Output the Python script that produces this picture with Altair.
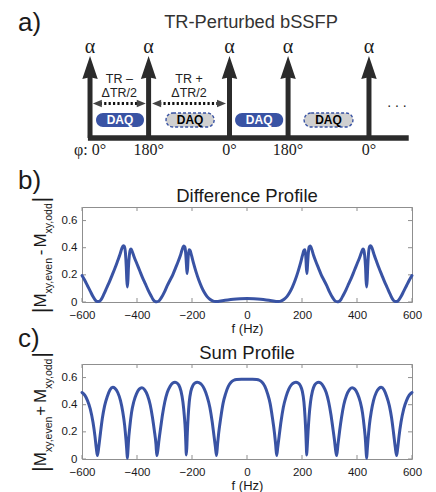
import altair as alt
import pandas as pd

# ---------------- data ----------------
pulse_t = [0.0, 0.84, 2.0, 2.84, 4.0]
pulse_phase = ["φ: 0°", "180°", "0°", "180°", "0°"]
daq_start = [0.086, 1.09, 2.08, 3.07]
daq_end = [0.774, 1.78, 2.77, 3.77]
daq_kind = ["even", "odd", "even", "odd"]
tr_start = [0.04, 0.89]
tr_end = [0.80, 1.95]
tr_line1 = ["TR –", "TR +"]
tr_line2 = ["ΔTR/2", "ΔTR/2"]
seq_extent = [-0.03, 4.57]

freq_ticks = [-600, -400, -200, 0, 200, 400, 600]
mag_ticks = [0, 0.2, 0.4, 0.6]

diff_f = [-600, -590, -580, -570, -560, -552, -545, -538, -530, -520, -510, -500, -490, -480,
          -470, -462, -455, -450, -446, -442, -439, -437, -435, -433, -431, -428, -425, -422,
          -418, -410, -400, -390, -380, -370, -360, -350, -342, -335, -328, -320, -312, -300,
          -290, -280, -270, -260, -250, -242, -236, -230, -226, -223, -220, -218, -216, -214,
          -211, -207, -202, -195, -185, -175, -165, -155, -145, -135, -125, -115, -105, -90,
          -70, -50, -25, 0,
          25, 50, 70, 90, 105, 115, 125, 135, 145, 155, 165, 175, 185, 195, 202, 207, 211,
          214, 216, 218, 220, 223, 226, 230, 236, 242, 250, 260, 270, 280, 290, 300, 312, 320,
          328, 335, 342, 350, 360, 370, 380, 390, 400, 410, 418, 422, 425, 428, 431, 433, 435,
          437, 439, 442, 446, 450, 455, 462, 470, 480, 490, 500, 510, 520, 530, 538, 545, 552,
          560, 570, 580, 590, 600]
diff_v = [0.195, 0.16, 0.12, 0.08, 0.04, 0.015, 0.003, 0.004, 0.02, 0.06, 0.105, 0.15, 0.2, 0.25,
          0.305, 0.35, 0.395, 0.415, 0.41, 0.36, 0.26, 0.16, 0.11, 0.16, 0.26, 0.34, 0.38, 0.39,
          0.375, 0.33, 0.28, 0.23, 0.18, 0.135, 0.09, 0.05, 0.02, 0.005, 0.002, 0.008, 0.03, 0.075,
          0.12, 0.16, 0.2, 0.25, 0.3, 0.345, 0.385, 0.412, 0.405, 0.36, 0.27, 0.21, 0.25, 0.33,
          0.385, 0.38, 0.345, 0.29, 0.22, 0.16, 0.11, 0.07, 0.04, 0.02, 0.008, 0.003, 0.004, 0.009,
          0.015, 0.02, 0.024, 0.026,
          0.024, 0.02, 0.015, 0.009, 0.004, 0.003, 0.008, 0.02, 0.04, 0.07, 0.11, 0.16, 0.22, 0.29,
          0.345, 0.38, 0.385,
          0.33, 0.25, 0.21, 0.27, 0.36, 0.405, 0.412, 0.385, 0.345, 0.3, 0.25, 0.2, 0.16, 0.12,
          0.075, 0.03, 0.008,
          0.002, 0.005, 0.02, 0.05, 0.09, 0.135, 0.18, 0.23, 0.28, 0.33, 0.375, 0.39, 0.38, 0.34,
          0.26, 0.16, 0.11,
          0.16, 0.26, 0.36, 0.41, 0.415, 0.395, 0.35, 0.305, 0.25, 0.2, 0.15, 0.105, 0.06, 0.02,
          0.004, 0.003, 0.015,
          0.04, 0.08, 0.12, 0.16, 0.195]

sum_f = [-600, -590, -580, -570, -560, -553, -548, -544, -539, -533, -526, -518, -508, -498,
         -488, -480, -470, -460, -452, -445, -440, -437, -435, -433, -431, -426, -420, -412,
         -402, -392, -382, -372, -362, -352, -344, -337, -331, -328, -324, -320, -314, -307,
         -299, -290, -280, -270, -262, -256, -248, -240, -233, -228, -224, -222, -221, -219,
         -217, -214, -210, -204, -197, -189, -181, -175, -165, -155, -145, -135, -127, -120,
         -115, -111, -107, -103, -95, -87, -78, -68, -58, -48, -38, -20, 0,
         20, 35, 45, 55, 65, 75, 84, 92, 100, 104, 108, 112, 117, 124, 132, 142, 152, 162, 172,
         178, 186, 194, 201, 207, 211, 214, 216, 217, 219, 222, 226, 231, 238, 246, 254, 260,
         268, 278, 288, 297, 305, 312, 318, 322, 326, 331, 337, 344, 352, 362, 372, 382, 392,
         402, 412, 420, 426, 431, 433, 435, 437, 440, 445, 452, 460, 470, 480, 488, 498, 508,
         518, 526, 533, 539, 544, 548, 553, 560, 570, 580, 590, 600]
sum_v = [0.49, 0.47, 0.43, 0.37, 0.27, 0.17, 0.08, 0.025, 0.09, 0.19, 0.3, 0.39, 0.46, 0.51,
         0.528, 0.52, 0.49, 0.43, 0.35, 0.25, 0.14, 0.06, 0.005, 0.06, 0.13, 0.24, 0.34, 0.42,
         0.48, 0.515, 0.525, 0.51, 0.47, 0.4, 0.31, 0.21, 0.11, 0.025, 0.07, 0.14, 0.23, 0.33,
         0.42, 0.49, 0.535, 0.56, 0.565, 0.562, 0.545, 0.5, 0.42, 0.32, 0.2, 0.09, 0.03, 0.08,
         0.19, 0.31, 0.42, 0.5, 0.54, 0.56, 0.565, 0.562, 0.548, 0.515, 0.46, 0.38, 0.28, 0.17,
         0.09, 0.025, 0.11, 0.19, 0.31, 0.41, 0.48, 0.535, 0.565, 0.58, 0.586, 0.588, 0.588,
         0.588, 0.586, 0.58, 0.565, 0.535, 0.48, 0.41, 0.31, 0.19, 0.11, 0.025, 0.09, 0.17, 0.28,
         0.38, 0.46, 0.515, 0.548, 0.562,
         0.565, 0.56, 0.54, 0.5, 0.42, 0.31, 0.19, 0.08, 0.03, 0.09, 0.2, 0.32, 0.42, 0.5, 0.545,
         0.562, 0.565,
         0.56, 0.535, 0.49, 0.42, 0.33, 0.23, 0.14, 0.07, 0.025, 0.11, 0.21, 0.31, 0.4, 0.47,
         0.51, 0.525, 0.515,
         0.48, 0.42, 0.34, 0.24, 0.13, 0.06, 0.005, 0.06, 0.14, 0.25, 0.35, 0.43, 0.49, 0.52,
         0.528, 0.51, 0.46,
         0.39, 0.3, 0.19, 0.09, 0.025, 0.08, 0.17, 0.27, 0.37, 0.43, 0.47, 0.49]

# ---------------- style ----------------
SANS = "Liberation Sans"
SERIF = "Liberation Serif"
BLUE = "#3953a4"
DARK = "#2b2b2b"
INK = "#1a1a1a"
FRAME = "#8f8f8f"
GREYF = "#d0d0d0"
W = 330
HA = 136
HP = 95


def label(text, x, y, size, align="left", baseline="alphabetic", font=SANS, color=INK,
          angle=0, weight="normal"):
    return alt.Chart(pd.DataFrame({"s": [text]})).mark_text(
        align=align, baseline=baseline, font=font, fontSize=size, color=color,
        angle=angle, fontWeight=weight
    ).encode(text="s:N", x=alt.value(x), y=alt.value(y))


# ---------------- panel a: sequence diagram ----------------
xsA = alt.Scale(domain=[-0.115, 4.617], nice=False, zero=False)
ysA = alt.Scale(domain=[-8.54, 157.32], nice=False, zero=False)

pulses = pd.DataFrame({"t": pulse_t, "phase": pulse_phase})
pulses["lv0"] = 0.0
pulses["lv1"] = 77.0
pulses["head"] = 84.8
pulses["alpha"] = 104.0
pulses["phi"] = -20.7

base_df = pd.DataFrame({"t0": [seq_extent[0]], "t1": [seq_extent[1]], "lv": [0.0]})

daq = pd.DataFrame({"s": daq_start, "e": daq_end, "kind": daq_kind})
daq["mid"] = (daq["s"] + daq["e"]) / 2
daq["lo"] = 13.4
daq["hi"] = 30.5
daq["lv"] = 22.0

tr = pd.DataFrame({"s": tr_start, "e": tr_end, "l1": tr_line1, "l2": tr_line2})
tr["mid"] = (tr["s"] + tr["e"]) / 2
tr["s2"] = tr["s"] + 0.1
tr["e2"] = tr["e"] - 0.1
tr["sh"] = tr["s"] + 0.065
tr["eh"] = tr["e"] - 0.065
tr["lv"] = 42.1
tr["lv1"] = 67.5
tr["lv2"] = 49.5

X = lambda f: alt.X(f, scale=xsA, axis=None)
Y = lambda f: alt.Y(f, scale=ysA, axis=None)

baseline = alt.Chart(base_df).mark_rule(strokeWidth=5.5, color=DARK).encode(
    x=X("t0:Q"), x2="t1:Q", y=Y("lv:Q"))
shafts = alt.Chart(pulses).mark_rule(strokeWidth=5, color=DARK).encode(
    x=X("t:Q"), y=Y("lv0:Q"), y2="lv1:Q")
heads = alt.Chart(pulses).mark_point(
    shape="M0,-1L0.62,0.85L0,0.7L-0.62,0.85Z", filled=True, size=620, color=DARK,
    opacity=1, strokeWidth=0).encode(x=X("t:Q"), y=Y("head:Q"))
alphas = alt.Chart(pulses).mark_text(text="α", font=SERIF, fontSize=20, color=INK,
                                     baseline="alphabetic").encode(x=X("t:Q"), y=Y("alpha:Q"))
phis = alt.Chart(pulses).mark_text(font=SERIF, fontSize=16, color=INK,
                                   baseline="alphabetic").encode(
    x=X("t:Q"), y=Y("phi:Q"), text="phase:N")
daq_blue = alt.Chart(daq).transform_filter("datum.kind == 'even'").mark_rect(
    cornerRadius=7, color=BLUE).encode(x=X("s:Q"), x2="e:Q", y=Y("lo:Q"), y2="hi:Q")
daq_grey = alt.Chart(daq).transform_filter("datum.kind == 'odd'").mark_rect(
    cornerRadius=7, fill=GREYF, stroke=BLUE, strokeWidth=1.4, strokeDash=[3, 2]).encode(
    x=X("s:Q"), x2="e:Q", y=Y("lo:Q"), y2="hi:Q")
daq_txt = alt.Chart(daq).mark_text(text="DAQ", font=SANS, fontSize=12, fontWeight="bold",
                                   baseline="middle").encode(
    x=X("mid:Q"), y=Y("lv:Q"),
    color=alt.Color("kind:N", scale=alt.Scale(domain=["even", "odd"], range=["white", "black"]),
                    legend=None))
tr_rule = alt.Chart(tr).mark_rule(strokeWidth=3, strokeDash=[2.2, 2.2], color="#111").encode(
    x=X("s2:Q"), x2="e2:Q", y=Y("lv:Q"))
tr_lh = alt.Chart(tr).mark_point(shape="M-1,0L1,-0.85L1,0.85Z", filled=True, size=81,
                                 color="#444", opacity=1, strokeWidth=0).encode(
    x=X("sh:Q"), y=Y("lv:Q"))
tr_rh = alt.Chart(tr).mark_point(shape="M1,0L-1,-0.85L-1,0.85Z", filled=True, size=81,
                                 color="#444", opacity=1, strokeWidth=0).encode(
    x=X("eh:Q"), y=Y("lv:Q"))
tr_t1 = alt.Chart(tr).mark_text(font=SANS, fontSize=12.5, color="#222",
                                baseline="alphabetic").encode(
    x=X("mid:Q"), y=Y("lv1:Q"), text="l1:N")
tr_t2 = alt.Chart(tr).mark_text(font=SANS, fontSize=12.5, color="#222",
                                baseline="alphabetic").encode(
    x=X("mid:Q"), y=Y("lv2:Q"), text="l2:N")
dots_df = pd.DataFrame({"t": [4.4], "lv": [37.8]})
dots = alt.Chart(dots_df).mark_text(text=". . .", font=SANS, fontSize=14, color=INK,
                                    baseline="alphabetic").encode(x=X("t:Q"), y=Y("lv:Q"))

panel_a = alt.layer(
    baseline, shafts, heads, alphas, phis, daq_blue, daq_grey, daq_txt,
    tr_rule, tr_lh, tr_rh, tr_t1, tr_t2, dots,
    label("TR-Perturbed bSSFP", 169, 19, 18.3, align="center", color="#333"),
    label("a)", -64, 21.5, 26),
).properties(width=W, height=HA, view=alt.ViewBackground(stroke="transparent"))

# ---------------- panels b & c: profiles ----------------
AW = {"|": 260, "M": 833, "x": 500, "y": 500, ",": 278, "e": 556, "v": 500, "n": 556,
      "o": 556, "d": 556, "-": 333, "+": 584, " ": 278}


def tw(s, size):
    return sum(AW[c] for c in s) * size / 1000.0


def ytitle(op):
    segs = [("|", 22, -33.6, 0, 0), ("M", 17, -36, 0, 0), ("xy,even", 10.5, -30.3, 0, 0)]
    if op == "-":
        segs.append(("-", 17, -36, 2, 2))
    else:
        segs.append(("+", 17, -36, 0, 3))
    segs += [("M", 17, -36, 0, 0), ("xy,odd", 10.5, -30.3, 0, 0), ("|", 22, -33.6, 0, 0)]
    total = sum(tw(s, z) + g0 + g1 for s, z, _, g0, g1 in segs)
    y = HP / 2 + 0.5 + total / 2
    layers = []
    for s, z, xb, g0, g1 in segs:
        y -= g0
        layers.append(label(s, xb, y, z, angle=270))
        y -= tw(s, z) + g1
    return layers


xsP = alt.Scale(domain=[-600, 600], nice=False, zero=False)
ysP = alt.Scale(domain=[0, 0.7], nice=False, zero=True)
x_axis = alt.Axis(values=freq_ticks, ticks=False, tickSize=0, domain=False, grid=False,
                  labelFont=SANS, labelFontSize=11.5, labelColor=INK, labelPadding=7,
                  labelFlush=False, title="f (Hz)", titleFont=SANS, titleFontSize=13,
                  titleFontWeight="normal", titleColor=INK, titlePadding=1.5)
y_axis = alt.Axis(values=mag_ticks, ticks=False, tickSize=0, domain=False, grid=False,
                  labelFont=SANS, labelFontSize=11.5, labelColor=INK, labelPadding=5,
                  labelFlush=False,
                  labelExpr="datum.value == 0 ? '0' : format(datum.value, '.1f')", title=None)


def profile(fs, vs, title, tag, tag_y, op):
    df = pd.DataFrame({"f": fs, "v": vs})
    xt = pd.DataFrame({"f": freq_ticks})
    yt = pd.DataFrame({"v": mag_ticks})
    XP = alt.X("f:Q", scale=xsP, axis=x_axis)
    YP = alt.Y("v:Q", scale=ysP, axis=y_axis)
    line = alt.Chart(df).mark_line(color=BLUE, strokeWidth=3, interpolate="monotone",
                                   strokeCap="round", strokeJoin="round").encode(x=XP, y=YP)
    tb = alt.Chart(xt).mark_rule(color=FRAME, strokeWidth=1).encode(
        x=XP, y=alt.value(HP), y2=alt.value(HP - 4))
    tt = alt.Chart(xt).mark_rule(color=FRAME, strokeWidth=1).encode(
        x=XP, y=alt.value(0), y2=alt.value(4))
    tl = alt.Chart(yt).mark_rule(color=FRAME, strokeWidth=1).encode(
        y=YP, x=alt.value(0), x2=alt.value(4))
    tr_ = alt.Chart(yt).mark_rule(color=FRAME, strokeWidth=1).encode(
        y=YP, x=alt.value(W), x2=alt.value(W - 4))
    layers = [tb, tt, tl, tr_, line,
              label(title, W / 2, -5.5, 18.5, align="center"),
              label(tag, -64, tag_y, 26)] + ytitle(op)
    return alt.layer(*layers).properties(width=W, height=HP)


panel_b = profile(diff_f, diff_v, "Difference Profile", "b)", -18.5, "-")
panel_c = profile(sum_f, sum_v, "Sum Profile", "c)", -17, "+")

chart = alt.vconcat(panel_a, panel_b, panel_c, spacing=62, bounds="flush").resolve_scale(
    x="independent", y="independent"
).properties(
    padding={"left": 9, "top": 0, "right": 2, "bottom": 0}
).configure_view(stroke=FRAME, strokeWidth=1)

chart.save("out.html", embed_options={"renderer": "svg", "actions": False})
